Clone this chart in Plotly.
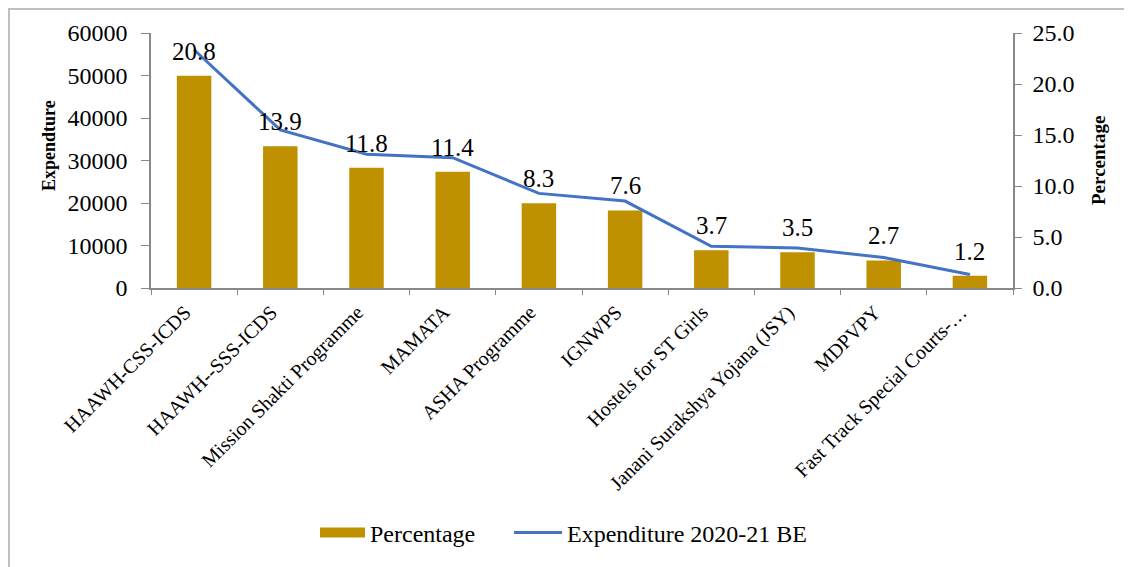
import plotly.graph_objects as go

categories = ["HAAWH-CSS-ICDS", "HAAWH--SSS-ICDS", "Mission Shakti Programme", "MAMATA",
              "ASHA Programme", "IGNWPS", "Hostels for ST Girls",
              "Janani Surakshya Yojana (JSY)", "MDPVPY", "Fast Track Special Courts-…"]
percentage = [20.8, 13.9, 11.8, 11.4, 8.3, 7.6, 3.7, 3.5, 2.7, 1.2]
expenditure = [56060, 37190, 31460, 30660, 22260, 20450, 9830, 9430, 7170, 3160]

left_ticks = [0, 10000, 20000, 30000, 40000, 50000, 60000]
right_ticks = [0, 5, 10, 15, 20, 25]

FONT = "Liberation Serif"
AXIS_COLOR = "#888888"
BAR_COLOR = "#BF9000"
LINE_COLOR = "#4472C4"

OFF = 8  # page body margin
W, H = 1124, 559
L, T = 143, 25
PW, PH = 862, 255
R, B = W - L - PW, H - T - PH


def px_x(x):
    return (x - OFF - L) / PW


def px_y(y):
    return (H - B - (y - OFF)) / PH


fig = go.Figure()
fig.add_trace(go.Bar(
    x=categories, y=percentage, name="Percentage",
    marker=dict(color=BAR_COLOR, line=dict(width=0)),
    yaxis="y", showlegend=False,
))
fig.add_trace(go.Scatter(
    x=[None], y=[None], name="Percentage", mode="lines",
    line=dict(color=BAR_COLOR, width=12), yaxis="y", showlegend=True,
    legend="legend",
))
fig.add_trace(go.Scatter(
    x=categories, y=expenditure, name="Expenditure 2020-21 BE",
    mode="lines", line=dict(color=LINE_COLOR, width=3),
    yaxis="y2", legend="legend2",
))

annotations = []
for c, p in zip(categories, percentage):
    annotations.append(dict(
        x=c, y=p, xref="x", yref="y", text=f"{p:.1f}", showarrow=False,
        yanchor="bottom", xanchor="center", yshift=9,
        font=dict(family=FONT, size=25, color="#000000"),
    ))
annotations.append(dict(
    x=px_x(49), y=px_y(146), xref="paper", yref="paper", text="<b>Expendture</b>",
    xanchor="center", yanchor="middle",
    textangle=-90, showarrow=False, font=dict(family=FONT, size=18, color="#000000"),
))
annotations.append(dict(
    x=px_x(1098), y=px_y(161), xref="paper", yref="paper", text="<b>Percentage</b>",
    xanchor="center", yanchor="middle",
    textangle=-90, showarrow=False, font=dict(family=FONT, size=19, color="#000000"),
))

shapes = [
    dict(type="line", xref="paper", yref="paper", x0=px_x(9), x1=px_x(9),
         y0=px_y(H + 20), y1=px_y(OFF + 1), line=dict(color="#BFBFBF", width=2)),
    dict(type="line", xref="paper", yref="paper", x0=px_x(8), x1=px_x(W + 20),
         y0=px_y(OFF + 1), y1=px_y(OFF + 1), line=dict(color="#BFBFBF", width=2)),
]

legend_common = dict(orientation="h", yanchor="middle", y=px_y(533), xanchor="left",
                     font=dict(family=FONT, size=24), bgcolor="rgba(0,0,0,0)",
                     borderwidth=0)

fig.update_layout(
    width=W, height=H,
    margin=dict(l=L, r=R, t=T, b=B, pad=0, autoexpand=False),
    paper_bgcolor="white", plot_bgcolor="white",
    font=dict(family=FONT, size=20, color="#000000"),
    bargap=0.6,
    showlegend=True,
    legend=dict(x=px_x(320 - 5), itemwidth=45, **legend_common),
    legend2=dict(x=px_x(514 - 5), itemwidth=48, **legend_common),
    xaxis=dict(
        tickangle=-45, tickfont=dict(family=FONT, size=20), automargin=False,
        showline=True, linecolor=AXIS_COLOR, linewidth=1.5,
        ticks="outside", ticklen=5, tickcolor=AXIS_COLOR,
        showgrid=False, tickson="boundaries", ticklabelshift=-9,
        ticklabelstandoff=3,
    ),
    yaxis=dict(
        side="right", range=[0, 25], tickvals=right_ticks, tickformat=".1f",
        tickfont=dict(family=FONT, size=24), automargin=False,
        showline=True, linecolor=AXIS_COLOR, linewidth=1.5,
        ticks="outside", ticklen=7, tickcolor=AXIS_COLOR,
        showgrid=False, zeroline=False, ticklabelstandoff=6,
    ),
    yaxis2=dict(
        side="left", overlaying="y", range=[0, 60000], tickvals=left_ticks,
        tickformat="d", tickfont=dict(family=FONT, size=24), automargin=False,
        showline=True, linecolor=AXIS_COLOR, linewidth=1.5,
        ticks="outside", ticklen=8, tickcolor=AXIS_COLOR,
        showgrid=False, zeroline=False, ticklabelstandoff=9,
    ),
    annotations=annotations,
    shapes=shapes,
)

fig.write_html("out.html")
